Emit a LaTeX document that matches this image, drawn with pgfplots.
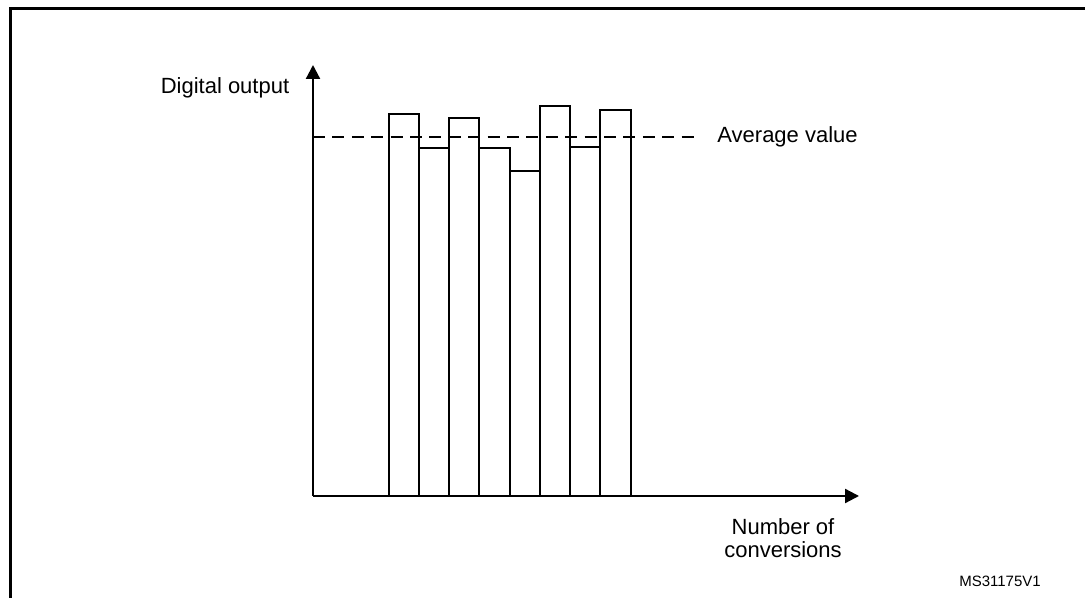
\documentclass[border=0pt]{standalone}
\usepackage{pgfplots}
\pgfplotsset{compat=1.18}
\usepackage{fontspec}
\setmainfont{Liberation Sans}
\usetikzlibrary{arrows.meta}
\begin{document}
\begin{tikzpicture}
\useasboundingbox (0,0) rectangle (542.5pt,299pt);
% frame
\draw[line width=1.5pt] (5pt,0pt) -- (5pt,294.5pt) -- (542.5pt,294.5pt);
\begin{axis}[
  at={(156.5pt,51pt)}, anchor=south west,
  x=15.125pt, y=0.5pt,
  xmin=-2, xmax=16.05, ymin=0, ymax=431,
  axis lines=left,
  axis line style={line width=1.1pt,-{Triangle[length=7pt,width=7pt]}},
  xtick=\empty, ytick=\empty,
  clip=false,
]
\addplot[ybar, bar width=1, fill=white, draw=black, line width=1pt]
  coordinates {(1,382) (2,348) (3,378) (4,348) (5,325) (6,390) (7,349) (8,386)};
\addplot[black, line width=1pt, dash pattern=on 6pt off 3.7pt]
  coordinates {(-2,359) (10.58,359)};
\end{axis}
\node[font=\fontsize{11}{13}\selectfont] at (112.5pt,255pt) {Digital output};
\node[font=\fontsize{11}{13}\selectfont, anchor=west, inner sep=0pt] at (358.5pt,230.5pt) {Average value};
\node[font=\fontsize{11}{11.5}\selectfont, align=center] at (391.5pt,30pt) {Number of\\conversions};
\node[font=\fontsize{7.5}{9}\selectfont] at (500pt,8.5pt) {MS31175V1};
\end{tikzpicture}
\end{document}
